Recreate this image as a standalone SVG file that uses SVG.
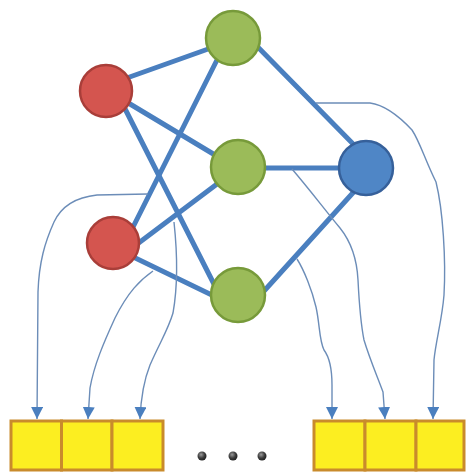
<svg xmlns="http://www.w3.org/2000/svg" width="466" height="472" viewBox="0 0 466 472">
<defs>
<style>
.edge{stroke:#4a7fbf;stroke-width:5;stroke-linecap:round;fill:none}
.thin{stroke:#6c8db8;stroke-width:1.4;fill:none}
.red{fill:#d4554f;stroke:#a93e39;stroke-width:2.5}
.green{fill:#9bbb59;stroke:#779a3a;stroke-width:2.5}
.blue{fill:#4f86c6;stroke:#36609a;stroke-width:2.5}
.box{fill:#fcee21;stroke:#c98b2c;stroke-width:3}
</style>
<marker id="ah" markerWidth="13" markerHeight="12" refX="12" refY="6" orient="auto" markerUnits="userSpaceOnUse">
<path d="M0,0 L12,6 L0,12 Z" fill="#4a7fbf"/>
</marker>
<radialGradient id="dot" cx="0.4" cy="0.35" r="0.65">
<stop offset="0" stop-color="#9a9a9a"/>
<stop offset="0.6" stop-color="#3c3c3c"/>
<stop offset="1" stop-color="#222"/>
</radialGradient>
</defs>
<g id="connectors">
<line class="edge" x1="110" y1="84" x2="225" y2="43"/>
<line class="edge" x1="110" y1="92" x2="230" y2="164"/>
<line class="edge" x1="117" y1="93" x2="220" y2="296"/>
<line class="edge" x1="124" y1="245" x2="222" y2="50"/>
<line class="edge" x1="120" y1="257" x2="225" y2="178"/>
<line class="edge" x1="125" y1="253" x2="218" y2="298"/>
<line class="edge" x1="245" y1="34" x2="360" y2="151"/>
<line class="edge" x1="238" y1="168" x2="366" y2="168"/>
<line class="edge" x1="255" y1="301" x2="360" y2="185"/>
<path class="thin" marker-end="url(#ah)" d="M148,194 L97,195 C78,197 62,205 54,222 C45,242 39,262 38,292 L37,419"/>
<path class="thin" marker-end="url(#ah)" d="M153,271 C140,280 128,292 115,318 C104,342 94,365 90,388 L88,419"/>
<path class="thin" marker-end="url(#ah)" d="M174,222 C177,250 178,285 173,313 C168,330 160,342 150,365 C144,380 141,395 140,419"/>
<path class="thin" marker-end="url(#ah)" d="M316,103 L370,103 C385,105 398,115 412,130 C420,142 425,160 436,182 C443,210 446,260 444,295 C442,320 436,340 434,360 L433,419"/>
<path class="thin" marker-end="url(#ah)" d="M292,169 C310,190 325,210 340,228 C352,243 357,260 358,280 C359,300 360,320 364,340 C370,360 378,378 383,392 L385,419"/>
<path class="thin" marker-end="url(#ah)" d="M297,259 C304,270 312,290 316,307 C320,325 319,340 324,350 C330,358 332,370 332,385 L332,419"/>
</g>
<g id="red1"><circle class="red" cx="106" cy="91" r="26"/></g>
<g id="red2"><circle class="red" cx="113" cy="243" r="26"/></g>
<g id="green1"><circle class="green" cx="233" cy="38" r="27"/></g>
<g id="green2"><circle class="green" cx="238" cy="167" r="27"/></g>
<g id="green3"><circle class="green" cx="238" cy="295" r="27"/></g>
<g id="blue1"><circle class="blue" cx="366" cy="168" r="27"/></g>
<g id="boxes-left">
<rect class="box" x="11" y="421" width="50.5" height="49"/>
<rect class="box" x="61.5" y="421" width="50.5" height="49"/>
<rect class="box" x="112" y="421" width="51" height="49"/>
</g>
<g id="boxes-right">
<rect class="box" x="314" y="421" width="51" height="49"/>
<rect class="box" x="365" y="421" width="51" height="49"/>
<rect class="box" x="416" y="421" width="48" height="49"/>
</g>
<g id="dots">
<circle cx="202" cy="456" r="4.5" fill="url(#dot)"/>
<circle cx="233" cy="456" r="4.5" fill="url(#dot)"/>
<circle cx="262" cy="456" r="4.5" fill="url(#dot)"/>
</g>
</svg>
